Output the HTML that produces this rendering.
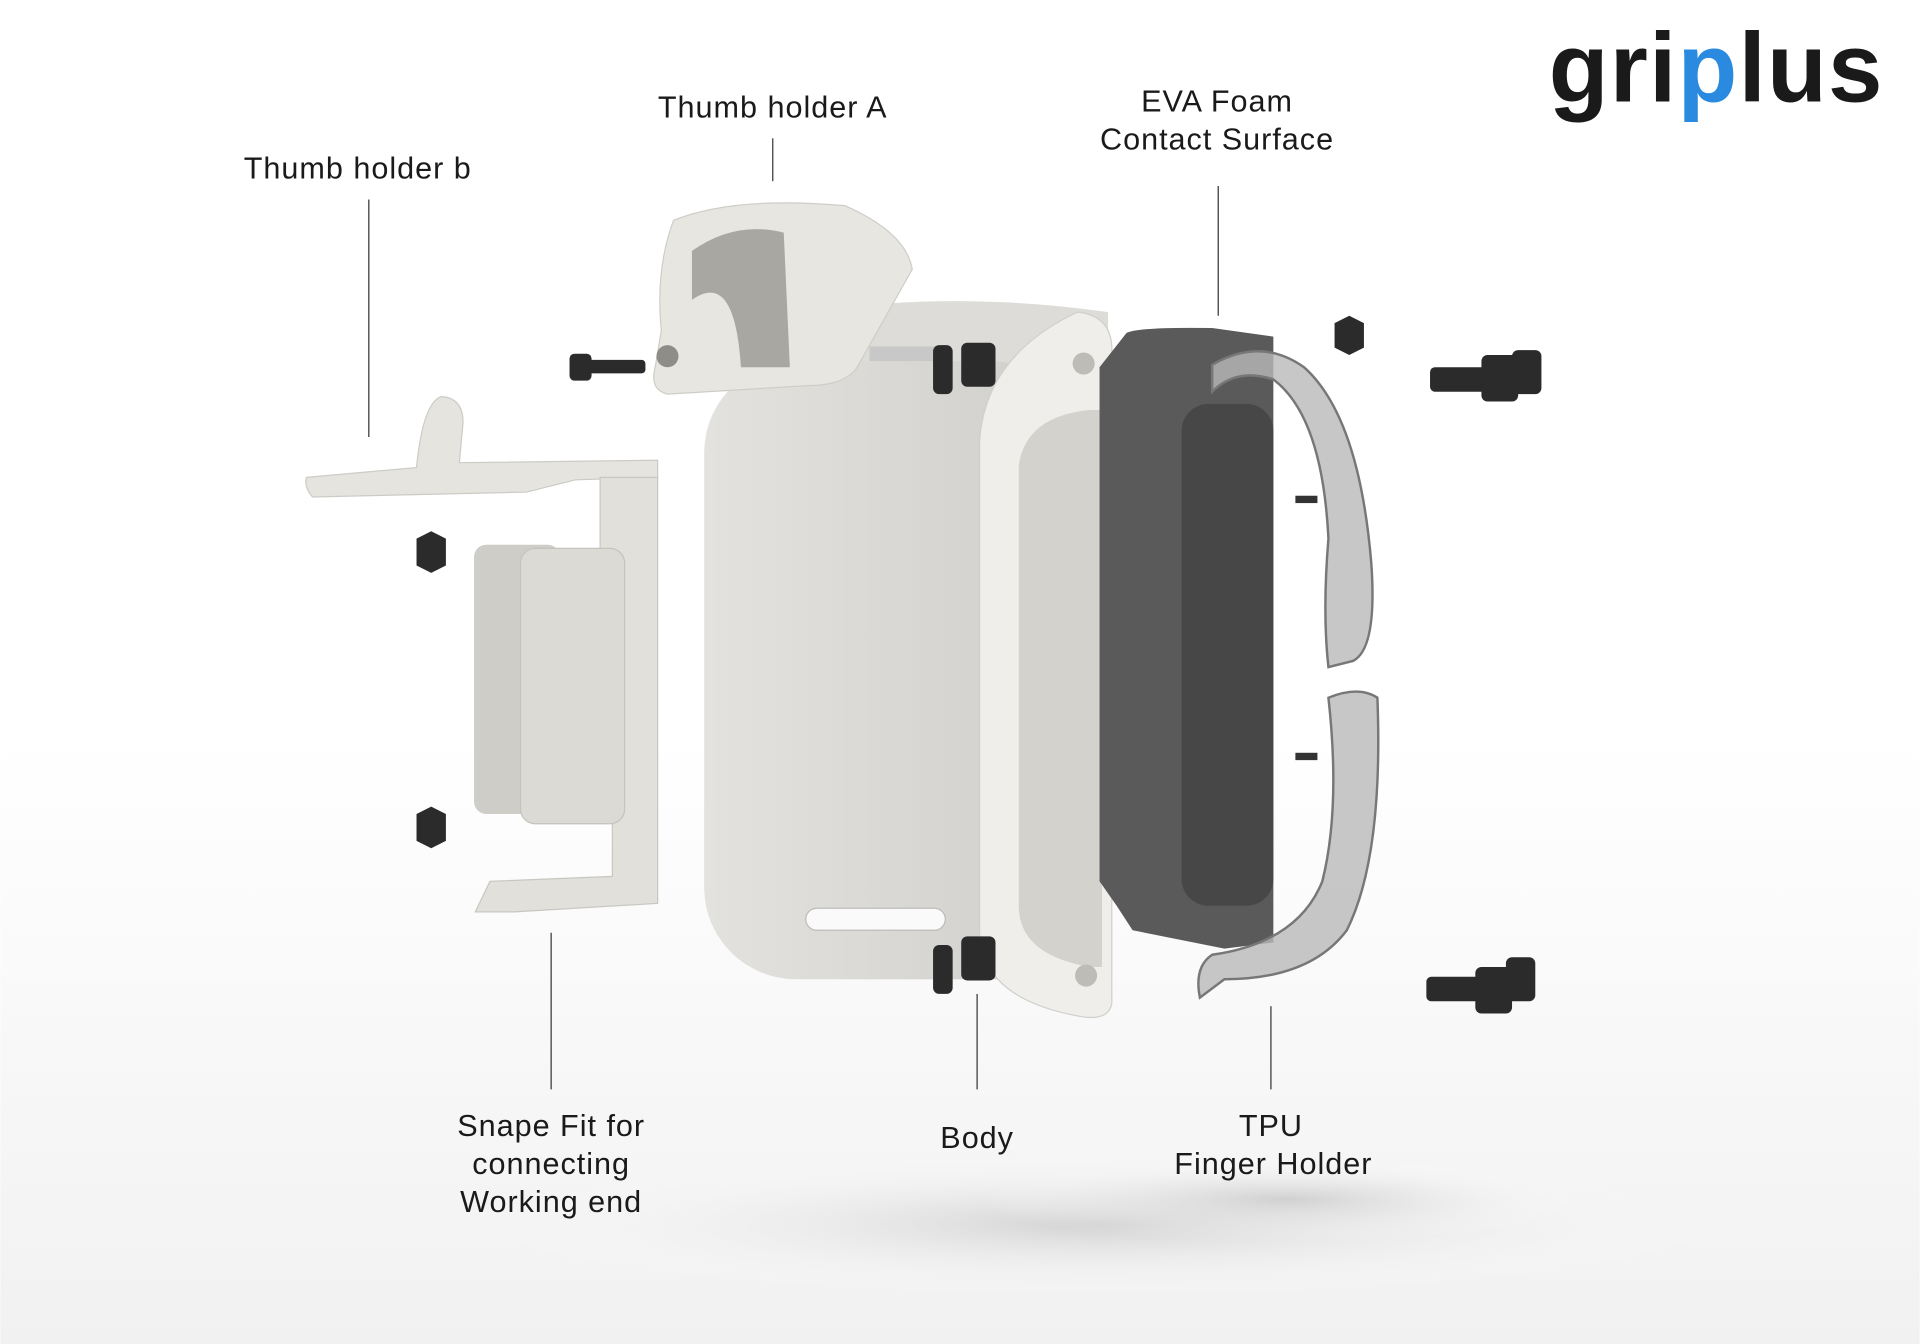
<!DOCTYPE html>
<html><head><meta charset="utf-8">
<style>
html,body{margin:0;padding:0;background:#fff;}
svg{display:block;}
text{font-family:"Liberation Sans",sans-serif;fill:#1a1a1a;}
</style></head>
<body>
<svg width="1920" height="1344" viewBox="0 0 1568 1098" xmlns="http://www.w3.org/2000/svg">
<defs>
<radialGradient id="floor" cx="0.5" cy="0.5" r="0.5">
<stop offset="0" stop-color="#c9c9c9" stop-opacity="0.8"/>
<stop offset="1" stop-color="#ffffff" stop-opacity="0"/>
</radialGradient>
<linearGradient id="bg" x1="0" y1="0" x2="0" y2="1">
<stop offset="0.55" stop-color="#ffffff"/>
<stop offset="1" stop-color="#f1f1f1"/>
</linearGradient>
<linearGradient id="plate" x1="0" y1="0" x2="1" y2="0">
<stop offset="0" stop-color="#e3e2de"/>
<stop offset="1" stop-color="#cfceca"/>
</linearGradient>
</defs>
<rect width="1568" height="1098" fill="url(#bg)"/>
<ellipse cx="900" cy="1000" rx="520" ry="60" fill="url(#floor)"/>
<ellipse cx="1050" cy="980" rx="250" ry="35" fill="url(#floor)"/>

<!-- logo -->
<text x="1265" y="83" font-size="80" font-weight="bold" style="letter-spacing:1px">gri<tspan style="fill:#2a8ae0">p</tspan>lus</text>

<!-- Body back -->
<path d="M700 250 Q800 240 905 255 L905 800 L700 800 Z" fill="#dddcd8"/>
<rect x="575" y="295" width="310" height="505" rx="75" fill="url(#plate)"/>
<rect x="658" y="742" width="114" height="18" rx="9" fill="#fafafa" stroke="#bdbcb8"/>
<!-- body rim -->
<path d="M880 255 Q910 258 908 290 L908 820 Q905 835 880 830 Q800 815 800 760 L800 360 Q805 290 880 255 Z" fill="#efeeea" stroke="#d0cfcb"/>
<path d="M890 335 L900 335 L900 790 L890 790 Q832 780 832 740 L832 380 Q838 340 890 335 Z" fill="#d3d2cd"/>
<circle cx="885" cy="297" r="9" fill="#bdbcb7"/>
<circle cx="887" cy="797" r="9" fill="#bdbcb7"/>

<!-- Thumb holder A -->
<path d="M550 180 Q600 160 690 168 Q740 190 745 220 L700 300 Q690 315 660 315 L545 322 Q530 318 535 300 L540 270 Q535 220 550 180 Z" fill="#e8e6e1" stroke="#cfcdc8"/>
<path d="M565 205 Q600 180 640 190 L645 300 L605 300 Q600 220 565 245 Z" fill="#a9a7a2"/>
<circle cx="545" cy="291" r="9" fill="#8f8d88"/>
<rect x="710" y="283" width="60" height="12" fill="#c8c8c8"/>

<!-- Thumb holder b -->
<path d="M250 390 L340 382 Q345 330 360 324 Q378 325 378 345 L375 378 L537 376 L537 390 L470 392 L430 402 L255 406 Q248 398 250 390 Z" fill="#e6e4df" stroke="#cdcbc6"/>
<!-- Snap fit bracket -->
<path d="M490 390 L537 390 L537 738 L420 745 L388 745 L400 720 L500 716 L500 670 L490 670 Z" fill="#e2e0db" stroke="#c9c7c2"/>
<rect x="387" y="445" width="70" height="220" rx="10" fill="#cfcdc8"/>
<rect x="425" y="448" width="85" height="225" rx="12" fill="#dcdad5" stroke="#c5c3be"/>

<!-- EVA foam -->
<path d="M920 272 Q930 267 990 268 L1040 275 L1040 770 L1000 775 L925 760 L912 740 L898 720 L898 300 Z" fill="#5a5a5a"/>
<rect x="965" y="330" width="75" height="410" rx="22" fill="#474747"/>

<!-- TPU finger holders -->
<path d="M990 298 Q1030 275 1065 300 Q1110 340 1120 460 Q1125 530 1105 540 L1085 545 Q1080 500 1085 440 Q1080 340 1040 310 Q1010 300 990 320 Z" fill="#b9b9b9" fill-opacity="0.8" stroke="#777" stroke-width="2"/>
<path d="M1085 570 Q1110 560 1125 570 Q1130 700 1100 760 Q1070 800 1000 800 L980 815 Q975 790 990 780 Q1060 770 1080 720 Q1095 660 1085 570 Z" fill="#b9b9b9" fill-opacity="0.8" stroke="#777" stroke-width="2"/>
<rect x="1058" y="405" width="18" height="6" fill="#333"/>
<rect x="1058" y="615" width="18" height="6" fill="#333"/>

<!-- screws / nuts -->
<g fill="#2b2b2b">
<rect x="465" y="289" width="18" height="22" rx="4"/><rect x="480" y="294" width="47" height="11" rx="3"/>
<rect x="762" y="282" width="16" height="40" rx="5"/><rect x="785" y="280" width="28" height="36" rx="5"/>
<rect x="762" y="772" width="16" height="40" rx="5"/><rect x="785" y="765" width="28" height="36" rx="5"/>
<polygon points="340,440 352,434 364,440 364,462 352,468 340,462"/>
<polygon points="340,665 352,659 364,665 364,687 352,693 340,687"/>
<polygon points="1090,264 1102,258 1114,264 1114,284 1102,290 1090,284"/>
<rect x="1168" y="300" width="60" height="20" rx="4"/><rect x="1210" y="290" width="30" height="38" rx="5"/><rect x="1235" y="286" width="24" height="36" rx="5"/>
<rect x="1165" y="798" width="60" height="20" rx="4"/><rect x="1205" y="790" width="30" height="38" rx="5"/><rect x="1230" y="782" width="24" height="36" rx="5"/>
</g>

<!-- leader lines -->
<g stroke="#555" stroke-width="1.2">
<line x1="301" y1="163" x2="301" y2="357"/>
<line x1="631" y1="113" x2="631" y2="148"/>
<line x1="995" y1="152" x2="995" y2="258"/>
<line x1="450" y1="762" x2="450" y2="890"/>
<line x1="798" y1="812" x2="798" y2="890"/>
<line x1="1038" y1="822" x2="1038" y2="890"/>
</g>

<!-- labels -->
<g font-size="25" text-anchor="middle" style="letter-spacing:0.8px">
<text x="292" y="146">Thumb holder b</text>
<text x="631" y="96">Thumb holder A</text>
<text x="994" y="91">EVA Foam</text>
<text x="994" y="122">Contact Surface</text>
<text x="450" y="928">Snape Fit for</text>
<text x="450" y="959">connecting</text>
<text x="450" y="990">Working end</text>
<text x="798" y="938">Body</text>
<text x="1038" y="928">TPU</text>
<text x="1040" y="959">Finger Holder</text>
</g>
</svg>
</body></html>
